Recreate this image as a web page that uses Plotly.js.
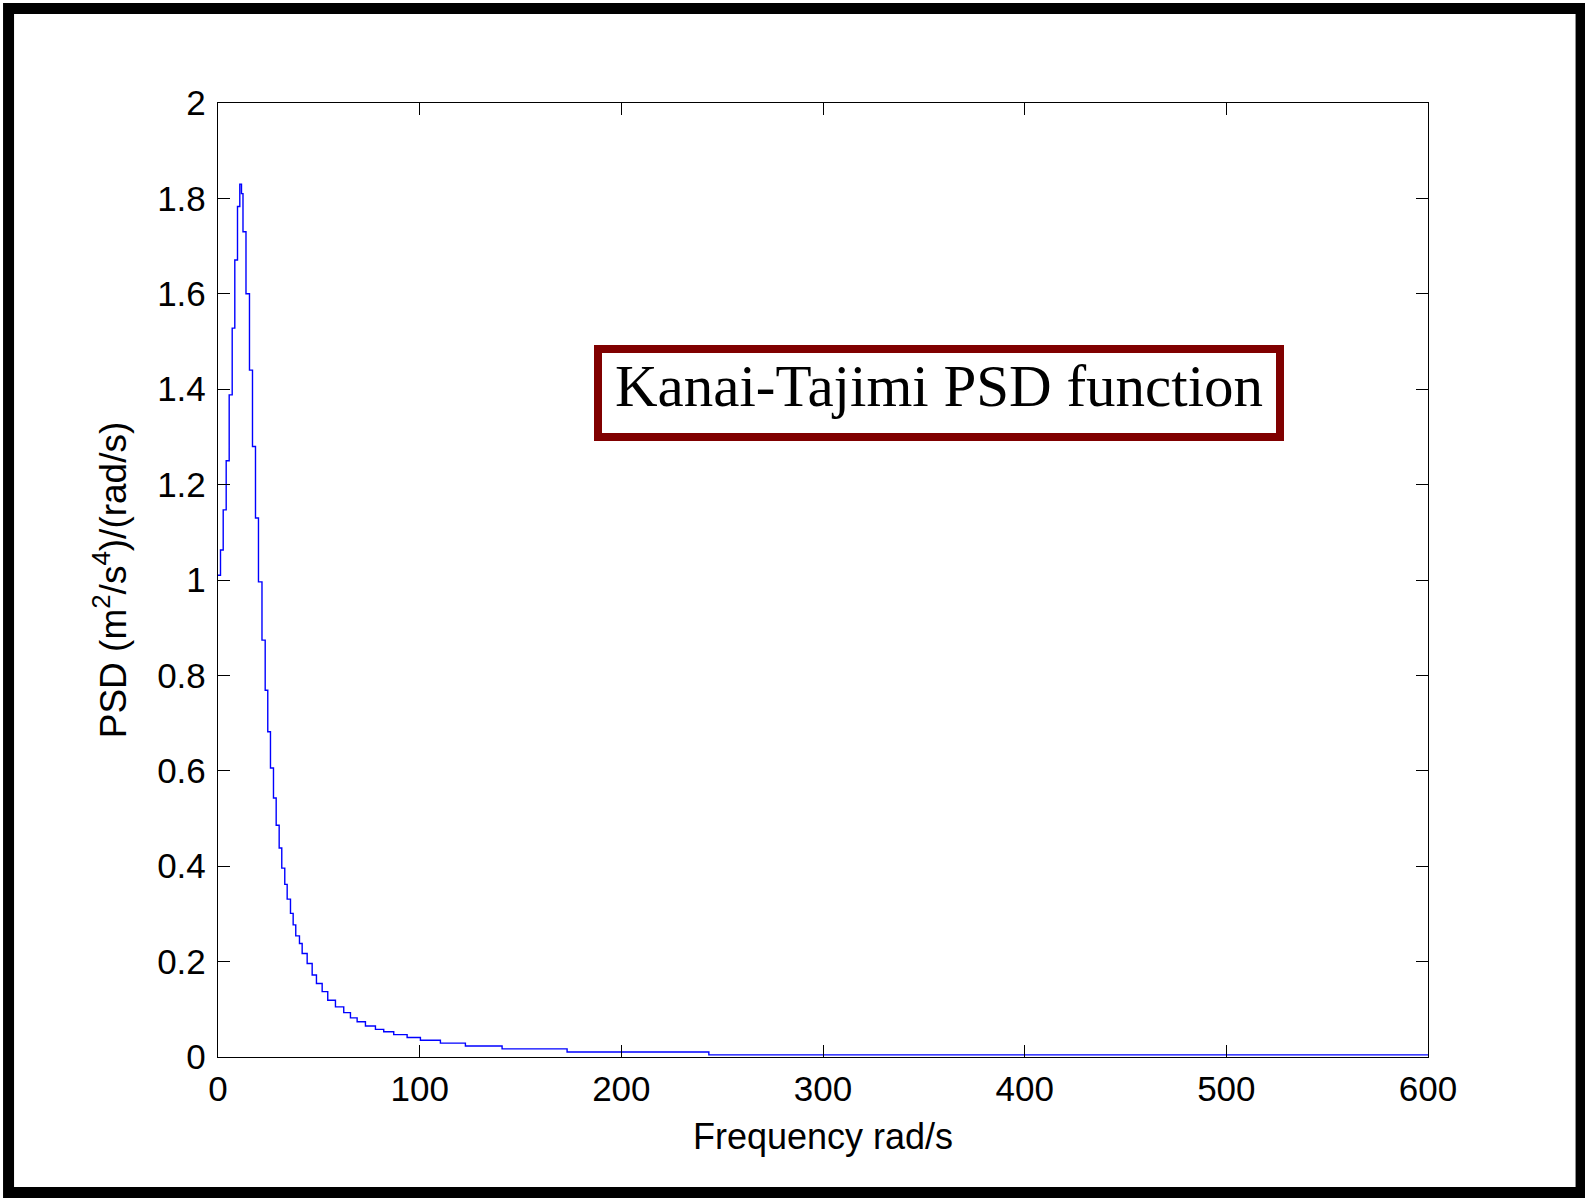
<!DOCTYPE html>
<html>
<head>
<meta charset="utf-8">
<script src="https://cdn.plot.ly/plotly-3.0.1.min.js"></script>
<style>
  html, body { margin: 0; padding: 0; background: #ffffff; }
  #chart { width: 1585px; height: 1201px; }
</style>
</head>
<body>
<div id="chart"></div>
<script>
// Frequency (rad/s) values
var freq = [
  0, 1.24, 2.58, 4.06, 5.55, 7.04, 8.33, 9.67, 10.81, 11.65, 12.39,
  13.88, 15.61, 17.10, 18.59, 20.07, 21.81, 23.40, 24.68, 26.02, 27.51,
  28.85, 30.33, 31.62, 33.11, 34.30, 35.94, 37.27, 38.56, 40.40, 41.73,
  44.21, 46.69, 48.82, 51.65, 54.42, 58.24, 62.35, 65.68, 68.99, 73.11,
  78.07, 82.18, 87.14, 93.78, 100.37, 110.28, 122.68, 140.87, 173.1, 243.4,
  600
];
// PSD values (m^2/s^4)/(rad/s)
var psd = [
  1.01, 1.063, 1.147, 1.25, 1.388, 1.528, 1.671, 1.783, 1.83, 1.81, 1.73,
  1.60, 1.44, 1.28, 1.13, 0.996, 0.874, 0.769, 0.682, 0.606, 0.543,
  0.486, 0.438, 0.396, 0.362, 0.331, 0.301, 0.277, 0.254, 0.238, 0.217,
  0.196, 0.172, 0.154, 0.137, 0.119, 0.105, 0.093, 0.082, 0.074, 0.065,
  0.058, 0.053, 0.047, 0.041, 0.035, 0.029, 0.023, 0.017, 0.0105, 0.0045,
  0.0045
];
var xTicks = [0, 100, 200, 300, 400, 500, 600];
var yTicks = [0, 0.2, 0.4, 0.6, 0.8, 1, 1.2, 1.4, 1.6, 1.8, 2];
var xTickText = ['0', '100', '200', '300', '400', '500', '600'];
var yTickText = ['0', '0.2', '0.4', '0.6', '0.8', '1', '1.2', '1.4', '1.6', '1.8', '2'];
var xTitle = 'Frequency rad/s';
var yTitle = 'PSD (m<sup>2</sup>/s<sup>4</sup>)/(rad/s)';
var boxLabel = 'Kanai-Tajimi PSD function';

var sans = 'Liberation Sans, Arial, Helvetica, sans-serif';

var trace = {
  x: freq, y: psd, type: 'scatter', mode: 'lines',
  line: { color: '#0000ff', width: 1.4, shape: 'hv' },
  hoverinfo: 'skip', showlegend: false
};

var axisCommon = {
  showline: true, linecolor: '#000000', linewidth: 1.2, mirror: 'ticks',
  ticks: 'inside', ticklen: 12, tickwidth: 1, tickcolor: '#000000',
  showgrid: false, zeroline: false,
  tickfont: { family: sans, size: 35, color: '#000000' }
};

var layout = {
  width: 1585, height: 1201,
  paper_bgcolor: '#ffffff', plot_bgcolor: '#ffffff',
  margin: { l: 218, r: 157, t: 103, b: 144, pad: 0 },
  showlegend: false,
  xaxis: Object.assign({}, axisCommon, {
    range: [0, 600], tickmode: 'array', tickvals: xTicks, ticktext: xTickText,
    ticklabelstandoff: 1,
    title: { text: xTitle, font: { family: sans, size: 36, color: '#000000' }, standoff: 16 }
  }),
  yaxis: Object.assign({}, axisCommon, {
    range: [0, 2], tickmode: 'array', tickvals: yTicks, ticktext: yTickText,
    ticklabelstandoff: 4,
    title: { text: yTitle, font: { family: sans, size: 37, color: '#000000' }, standoff: 19 }
  }),
  annotations: [{
    xref: 'x', yref: 'y', x: 357.5, y: 1.392,
    xanchor: 'center', yanchor: 'middle', showarrow: false,
    text: boxLabel,
    font: { family: 'Liberation Serif, Times New Roman, serif', size: 59, color: '#000000' },
    bgcolor: '#ffffff', bordercolor: '#800000', borderwidth: 8, borderpad: 0,
    width: 674, height: 80, align: 'center', valign: 'top'
  }],
  shapes: [{
    type: 'rect', xref: 'paper', yref: 'paper',
    x0: -0.1731, x1: 1.1265, y0: -0.1420, y1: 1.0991,
    line: { color: '#000000', width: 11 }, fillcolor: 'rgba(0,0,0,0)', layer: 'above'
  }]
};

Plotly.newPlot('chart', [trace], layout, { displayModeBar: false, staticPlot: true });
</script>
</body>
</html>
